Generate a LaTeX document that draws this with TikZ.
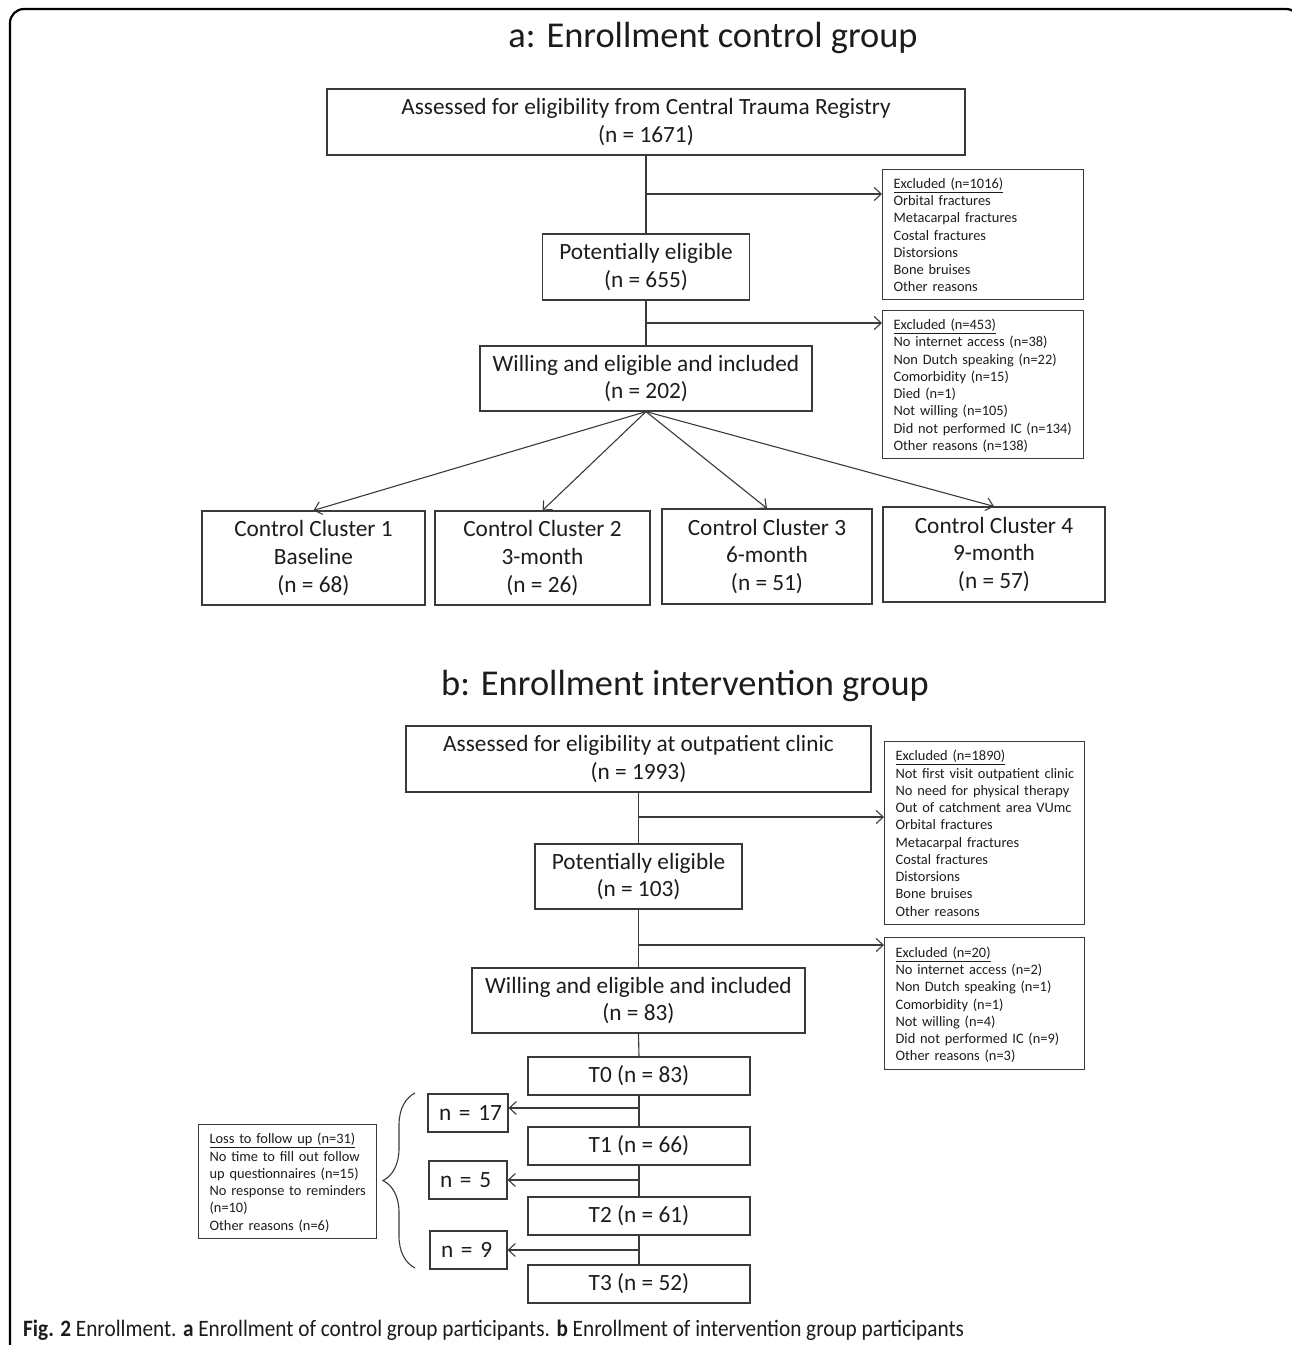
\documentclass[tikz,border=0pt]{standalone}
\usepackage{fontspec}
\setmainfont{Carlito}
\newfontfamily\tightf{Carlito}[WordSpace=0.8]
\usetikzlibrary{arrows.meta,decorations.pathreplacing}
\definecolor{ln}{HTML}{3A3A3A}
\definecolor{tx}{HTML}{1C1C1C}
\newcommand\mylines[1]{\raisebox{0pt}[\dimexpr\height+4pt\relax]{\begin{tabular}{@{}l@{}}#1\end{tabular}}}
\begin{document}
\begin{tikzpicture}[x=1pt,y=-1pt,
  box/.style={draw=ln,line width=1.2pt,inner sep=0pt,align=center,text=tx,
    font=\fontsize{23.3}{27.6}\selectfont},
  exbox/.style={draw=ln,line width=1.2pt,inner xsep=11pt,inner ysep=0pt,align=left,text=tx,
    anchor=north west,font=\tightf\fontsize{14.4}{17.25}\selectfont},
  nbox/.style={draw=ln,line width=1.2pt,inner xsep=11pt,inner ysep=0pt,align=left,text=tx,
    font=\tightf\fontsize{23.3}{27.6}\selectfont},
  ttl/.style={text=tx,font=\fontsize{36.4}{40}\selectfont,inner sep=0pt},
  conn/.style={draw=ln,line width=1.1pt},
  arr/.style={conn,-{Straight Barb[length=7pt,width=13pt]}}]
\useasboundingbox (0,0) rectangle (1292,1345);
\begin{scope}
\clip (0,0) rectangle (1292,1345);
\draw[line width=2.2pt,rounded corners=14pt] (10,1400) -- (10,9) -- (1300,9) -- (1300,1400);
\end{scope}

% ---------- part a ----------
\node[ttl] (ta) at (713,38) {a: Enrollment control group};
\node[box,minimum width=638,minimum height=66] (a1) at (646,122)
  {Assessed for eligibility from Central Trauma Registry\\(n = 1671)};
\node[box,minimum width=207,minimum height=66] (a2) at (646,267)
  {Potentially eligible\\(n = 655)};
\node[box,minimum width=332,minimum height=65] (a3) at (646,378.5)
  {Willing and eligible and included\\(n = 202)};
\node[exbox,text width=179,minimum height=130] (ex1) at (882,169)
  {\mylines{\underline{Excluded (n=1016)}\\Orbital fractures\\Metacarpal fractures\\Costal fractures\\Distorsions\\Bone bruises\\Other reasons}};
\node[exbox,text width=179,minimum height=148] (ex2) at (882,310)
  {\mylines{\underline{Excluded (n=453)}\\No internet access (n=38)\\Non Dutch speaking (n=22)\\Comorbidity (n=15)\\Died (n=1)\\Not willing (n=105)\\Did not performed IC (n=134)\\Other reasons (n=138)}};
\node[box,minimum width=223,minimum height=94] (c1) at (313.5,558)
  {Control Cluster 1\\Baseline\\(n = 68)};
\node[box,minimum width=215,minimum height=94] (c2) at (542.5,558)
  {Control Cluster 2\\3-month\\(n = 26)};
\node[box,minimum width=210,minimum height=95] (c3) at (767,556.5)
  {Control Cluster 3\\6-month\\(n = 51)};
\node[box,minimum width=222,minimum height=95] (c4) at (994,554.5)
  {Control Cluster 4\\9-month\\(n = 57)};

\coordinate (ja1) at (646,194);
\coordinate (ja2) at (646,323);
\draw[conn] (a1.south) -- (a2.north);
\draw[conn] (a2.south) -- (a3.north);
\draw[arr] (ja1) -- (ja1 -| ex1.west);
\draw[arr] (ja2) -- (ja2 -| ex2.west);
\foreach \c in {c1,c2,c3,c4} \draw[arr] (a3.south) -- (\c.north);

% ---------- part b ----------
\node[ttl] (tb) at (685,686) {b: Enrollment intervention group};
\node[box,minimum width=465,minimum height=66] (b1) at (638.5,759)
  {Assessed for eligibility at outpatient clinic\\(n = 1993)};
\node[box,minimum width=207,minimum height=65] (b2) at (638.5,876.5)
  {Potentially eligible\\(n = 103)};
\node[box,minimum width=333,minimum height=65] (b3) at (638.5,1000.5)
  {Willing and eligible and included\\(n = 83)};
\node[exbox,text width=178,minimum height=183] (ex3) at (884,741)
  {\mylines{\underline{Excluded (n=1890)}\\Not first visit outpatient clinic\\No need for physical therapy\\Out of catchment area VUmc\\Orbital fractures\\Metacarpal fractures\\Costal fractures\\Distorsions\\Bone bruises\\Other reasons}};
\node[exbox,text width=178,minimum height=132] (ex4) at (884,937)
  {\mylines{\underline{Excluded (n=20)}\\No internet access (n=2)\\Non Dutch speaking (n=1)\\Comorbidity (n=1)\\Not willing (n=4)\\Did not performed IC (n=9)\\Other reasons (n=3)}};
\node[box,minimum width=222,minimum height=38] (t0) at (639,1076) {T0 (n = 83)};
\node[box,minimum width=222,minimum height=38] (t1) at (639,1146) {T1 (n = 66)};
\node[box,minimum width=222,minimum height=38] (t2) at (639,1216) {T2 (n = 61)};
\node[box,minimum width=222,minimum height=38] (t3) at (639,1284) {T3 (n = 52)};
\node[nbox,text width=58,minimum height=38] (n1) at (468,1113) {\mylines{n = 17}};
\node[nbox,text width=56,minimum height=38] (n2) at (468,1180) {\mylines{n = 5}};
\node[nbox,text width=55,minimum height=38] (n3) at (468.5,1250) {\mylines{n = 9}};
\node[exbox,text width=156,minimum height=114] (loss) at (198,1124)
  {\mylines{\underline{Loss to follow up (n=31)}\\No time to fill out follow\\up questionnaires (n=15)\\No response to reminders\\(n=10)\\Other reasons (n=6)}};

\coordinate (jb1) at (638.5,817);
\coordinate (jb2) at (638.5,945);
\coordinate (jt1) at (639,1108);
\coordinate (jt2) at (639,1180);
\coordinate (jt3) at (639,1250);
\draw[conn] (b1.south) -- (b2.north);
\draw[conn] (b2.south) -- (b3.north);
\draw[conn] (b3.south) -- (t0.north);
\draw[conn] (t0.south) -- (t1.north);
\draw[conn] (t1.south) -- (t2.north);
\draw[conn] (t2.south) -- (t3.north);
\draw[arr] (jb1) -- (jb1 -| ex3.west);
\draw[arr] (jb2) -- (jb2 -| ex4.west);
\draw[arr] (jt1) -- (jt1 -| n1.east);
\draw[arr] (jt2) -- (jt2 -| n2.east);
\draw[arr] (jt3) -- (jt3 -| n3.east);
\coordinate (brb) at (415,1268);
\coordinate (brt) at (415,1093);
\draw[conn,decorate,decoration={brace,amplitude=32pt}] (brb) -- (brt);

% ---------- caption ----------
\node[anchor=west,inner sep=0pt,text=tx,font=\fontsize{23.5}{26}\selectfont] (cap) at (23,1330)
  {\scalebox{0.905}[1]{\textbf{Fig. 2} Enrollment. \textbf{a} Enrollment of control group participants. \textbf{b} Enrollment of intervention group participants}};
\end{tikzpicture}
\end{document}
